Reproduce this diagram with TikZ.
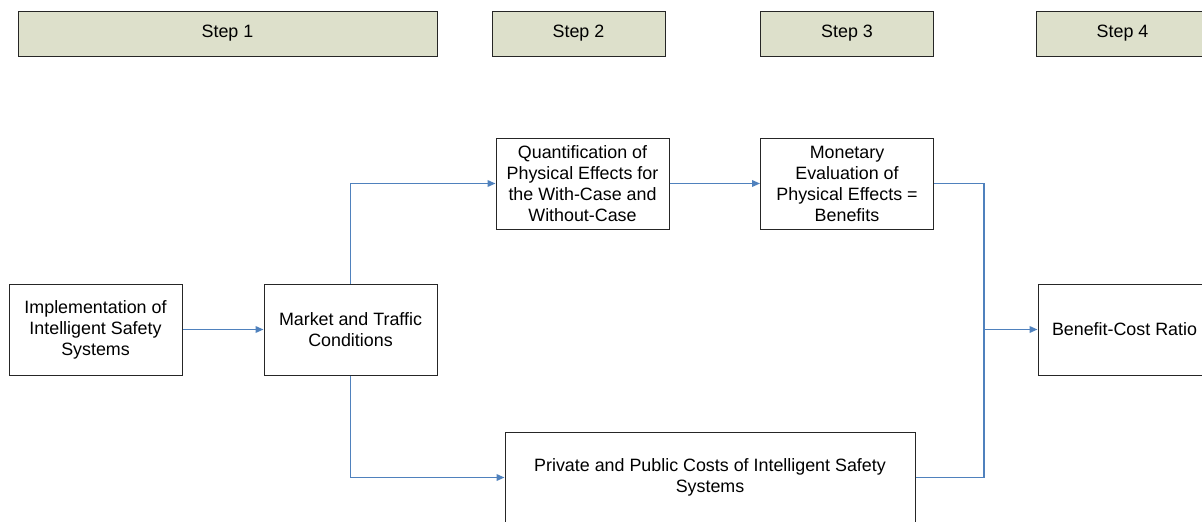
\documentclass[tikz,border=0pt]{standalone}
\usepackage{fontspec}
\setmainfont{Liberation Sans}
\usetikzlibrary{positioning,arrows.meta}
\definecolor{stepfill}{RGB}{221,224,203}
\definecolor{flowblue}{RGB}{79,129,189}

\begin{document}
\begin{tikzpicture}[x=0.75pt,y=-0.75pt,
    box/.style={draw=black!85,line width=0.75pt,minimum width=129.75pt,minimum height=68.25pt,inner sep=0pt,align=center,font=\fontsize{13.4}{15.75}\selectfont},
    stepbox/.style={box,fill=stepfill,minimum height=33.75pt},
    flowline/.style={draw=flowblue,line width=1.1pt},
    flow/.style={flowline,-{Triangle[length=6pt,width=5pt]}}]
  \useasboundingbox (0,0) rectangle (1202,521);
  \clip (0,0) rectangle (1202,521);
  % step headers
  \node[stepbox,minimum width=314.25pt] (step1) at (227.5,33.5) {Step 1};
  \node[stepbox] (step2) at (578.5,33.5) {Step 2};
  \node[stepbox] (step3) at (847,33.5) {Step 3};
  \node[stepbox] (step4) at (1122.5,33.5) {Step 4};
  % process boxes
  \node[box] (impl) at (95.5,329.5) {Implementation of\\Intelligent Safety\\Systems};
  \node[box] (market) at (350.5,329.5) {Market and Traffic\\Conditions};
  \node[box] (quant) at (582.5,183.5) {Quantification of\\Physical Effects for\\the With-Case and\\Without-Case};
  \node[box] (monetary) at (847,183.5) {Monetary\\Evaluation of\\Physical Effects =\\Benefits};
  \node[box] (bcr) at (1124.5,329.5) {Benefit-Cost Ratio};
  \node[box,minimum width=307.5pt] (private) at (710,477.5) {Private and Public Costs of Intelligent Safety\\Systems};
  \coordinate (join) at (984,329.5);
  % connectors
  \draw[flow] (impl) -- (market);
  \draw[flow] (market.north) |- (quant);
  \draw[flow] (quant) -- (monetary);
  \draw[flow] (market.south) |- (private);
  \draw[flowline] (monetary) -| (join);
  \draw[flowline] (private) -| (join);
  \draw[flow] (join) -- (bcr);
\end{tikzpicture}
\end{document}
